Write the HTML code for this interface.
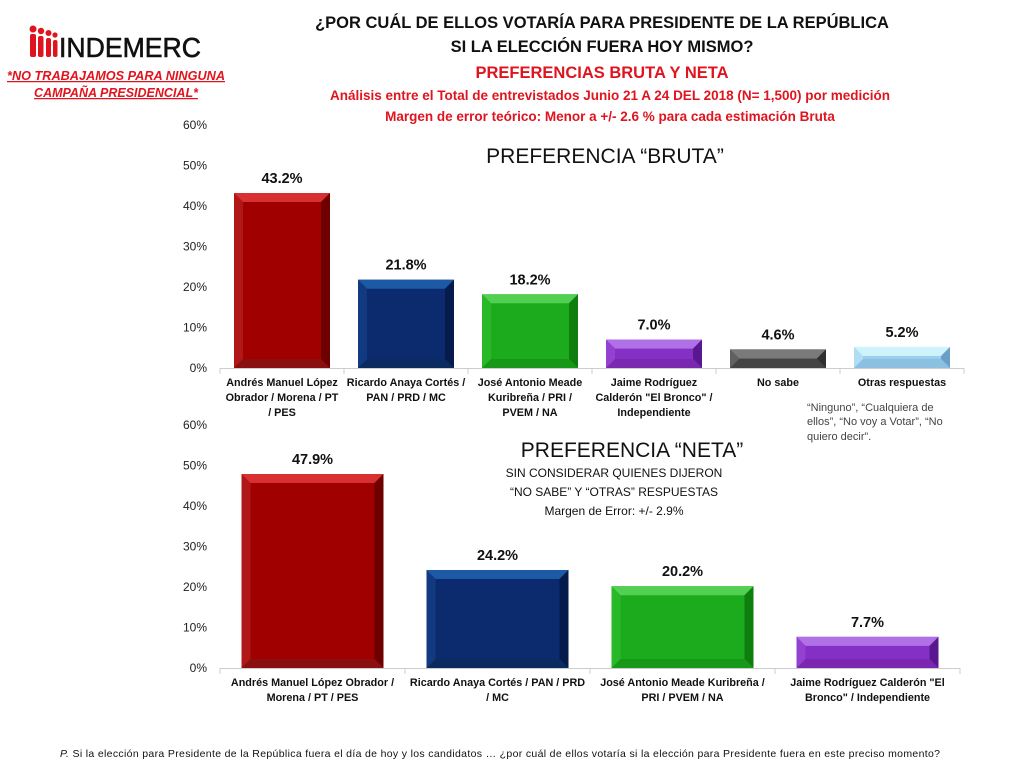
<!DOCTYPE html>
<html><head><meta charset="utf-8"><style>
body{margin:0;background:#fff;width:1024px;height:768px;overflow:hidden;font-family:"Liberation Sans",sans-serif}
svg text{font-family:"Liberation Sans",sans-serif}
</style></head><body>
<svg id="s" width="1024" height="768" xmlns="http://www.w3.org/2000/svg">
<g fill="#e0141e">
<circle cx="33" cy="29" r="3.5"/><rect x="30" y="34" width="6" height="23" rx="2"/>
<circle cx="41" cy="31" r="3.2"/><rect x="38" y="36" width="5.5" height="21" rx="2"/>
<circle cx="48.5" cy="33" r="3"/><rect x="46" y="38" width="5" height="19" rx="2"/>
<circle cx="55" cy="35" r="2.6"/><rect x="53" y="40" width="4.5" height="17" rx="2"/>
</g>
<text x="59" y="57" font-size="28" fill="#111" stroke="#111" stroke-width="0.6" textLength="142" lengthAdjust="spacingAndGlyphs">INDEMERC</text>
<g fill="#e0141e" font-size="12.5" font-weight="bold" font-style="italic" text-anchor="middle" text-decoration="underline">
<text x="116" y="80" textLength="218" lengthAdjust="spacingAndGlyphs">*NO TRABAJAMOS PARA NINGUNA</text>
<text x="116" y="97">CAMPAÑA PRESIDENCIAL*</text>
</g>
<g text-anchor="middle" font-weight="bold">
<text x="602" y="28" font-size="16.5" fill="#111">¿POR CUÁL DE ELLOS VOTARÍA PARA PRESIDENTE DE LA REPÚBLICA</text>
<text x="602" y="52" font-size="16.5" fill="#111">SI LA ELECCIÓN FUERA HOY MISMO?</text>
<text x="602" y="78" font-size="16.5" fill="#e0141e">PREFERENCIAS BRUTA Y NETA</text>
<text x="610" y="100" font-size="13.5" fill="#e0141e">Análisis entre el Total de entrevistados Junio 21 A 24 DEL 2018  (N= 1,500) por medición</text>
<text x="610" y="121" font-size="13.5" fill="#e0141e">Margen de error teórico: Menor a +/- 2.6 % para cada estimación Bruta</text>
</g>
<text x="605" y="163" font-size="21" text-anchor="middle" fill="#111">PREFERENCIA “BRUTA”</text>
<text x="632" y="457" font-size="21" text-anchor="middle" fill="#111">PREFERENCIA “NETA”</text>
<g font-size="12" text-anchor="middle" fill="#111">
<text x="614" y="477">SIN CONSIDERAR QUIENES DIJERON</text>
<text x="614" y="496">“NO SABE” Y “OTRAS” RESPUESTAS</text>
<text x="614" y="515">Margen de Error: +/- 2.9%</text>
</g>
<g font-size="11" fill="#444">
<text x="807" y="411">“Ninguno”, “Cualquiera de</text>
<text x="807" y="425">ellos”, “No voy a Votar”, “No</text>
<text x="807" y="440">quiero decir”.</text>
</g>
<text x="60" y="757" font-size="10.5" fill="#111" textLength="880" lengthAdjust="spacing"><tspan font-style="italic">P.</tspan> Si la elección para Presidente de la República fuera el día de hoy y los candidatos … ¿por cuál de ellos votaría si la elección para Presidente fuera en este preciso momento?</text>
<g id="c"></g>
</svg>
<script>
const NS="http://www.w3.org/2000/svg",g=document.getElementById('c');
function el(t,a,txt){const e=document.createElementNS(NS,t);for(const k in a)e.setAttribute(k,a[k]);if(txt)e.textContent=txt;g.appendChild(e);return e;}
const C={r:['#a00000','#d83030','#6e0000','#8a1010','#b01818'],b:['#0c2a6e','#1c5aa6','#061a4c','#0a2a60','#123a80'],g:['#1cab1c','#52d052','#0e7e0e','#189818','#28b828'],p:['#8530c4','#b070e6','#5a1890','#7a28b0','#9440d0'],k:['#555','#7a7a7a','#303030','#444','#606060'],l:['#9ccfee','#cdf4fb','#6aa0c8','#8cc0e0','#b0ddf4']};
function bar(x,y,w,h,c,b){const [m,t,r,bt,l]=C[c];b=Math.min(b,h/2);
el('rect',{x,y,width:w,height:h,fill:m});
el('polygon',{points:`${x},${y} ${x+w},${y} ${x+w-b},${y+b} ${x+b},${y+b}`,fill:t});
el('polygon',{points:`${x+w},${y} ${x+w},${y+h} ${x+w-b},${y+h-b} ${x+w-b},${y+b}`,fill:r});
el('polygon',{points:`${x},${y+h} ${x+w},${y+h} ${x+w-b},${y+h-b} ${x+b},${y+h-b}`,fill:bt});
el('polygon',{points:`${x},${y} ${x+b},${y+b} ${x+b},${y+h-b} ${x},${y+h}`,fill:l});}
function chart(y0,x0,cw,n,bw,data,labels){
for(let i=0;i<=6;i++)el('text',{x:207,y:y0-i*40.5+4,'font-size':12,'text-anchor':'end',fill:'#222'},i*10+'%');
el('line',{x1:x0,y1:y0+0.5,x2:x0+cw*n,y2:y0+0.5,stroke:'#ccc'});
for(let i=0;i<=n;i++)el('line',{x1:x0+i*cw,y1:y0,x2:x0+i*cw,y2:y0+6,stroke:'#ccc'});
data.forEach((d,i)=>{const h=d[0]*4.05,x=x0+i*cw+(cw-bw)/2;bar(x,y0-h,bw,h,d[1],9);
el('text',{x:x+bw/2,y:y0-h-10,'font-size':14.5,'font-weight':'bold','text-anchor':'middle',fill:'#111'},d[0].toFixed(1)+'%');
labels[i].forEach((s,j)=>el('text',{x:x0+i*cw+cw/2,y:y0+18+j*15,'font-size':10.8,'font-weight':'bold','text-anchor':'middle',fill:'#111'},s));});}
chart(368,220,124,6,96,[[43.2,'r'],[21.8,'b'],[18.2,'g'],[7.0,'p'],[4.6,'k'],[5.2,'l']],
[['Andrés Manuel López','Obrador / Morena / PT','/ PES'],['Ricardo Anaya Cortés /','PAN / PRD / MC'],['José Antonio Meade','Kuribreña / PRI /','PVEM / NA'],['Jaime Rodríguez','Calderón "El Bronco" /','Independiente'],['No sabe'],['Otras respuestas']]);
chart(668,220,185,4,142,[[47.9,'r'],[24.2,'b'],[20.2,'g'],[7.7,'p']],
[['Andrés Manuel López Obrador /','Morena / PT / PES'],['Ricardo Anaya Cortés / PAN / PRD','/ MC'],['José Antonio Meade Kuribreña /','PRI / PVEM / NA'],['Jaime Rodríguez Calderón "El','Bronco" / Independiente']]);
</script>
</body></html>
